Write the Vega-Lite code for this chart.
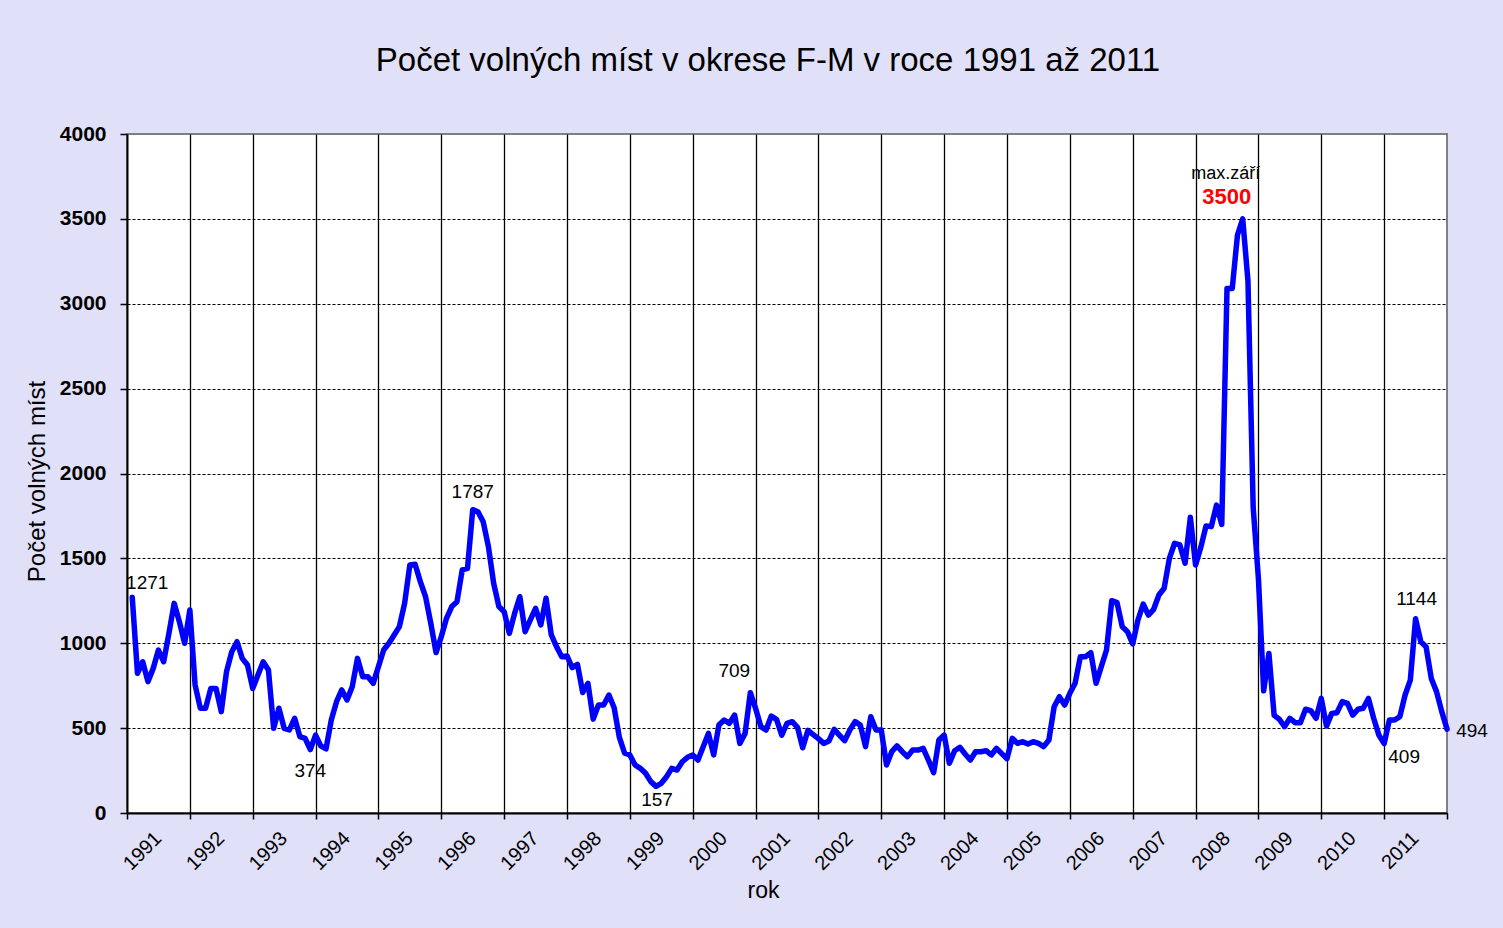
{
  "$schema": "https://vega.github.io/schema/vega-lite/v6.json",
  "width": 1320,
  "height": 679,
  "autosize": {"type": "none"},
  "padding": {"left": 127, "top": 134, "right": 56, "bottom": 115},
  "background": "#E0E0F8",
  "config": {
    "font": "Liberation Sans",
    "view": {"fill": "white", "stroke": "#808080", "strokeWidth": 2}
  },
  "title": {
    "text": "Počet volných  míst v okrese F-M v roce 1991 až 2011",
    "fontSize": 33,
    "fontWeight": "normal",
    "color": "black",
    "anchor": "middle",
    "baseline": "alphabetic",
    "dx": -19,
    "offset": 19
  },
  "data": {"values": [
    {"m":1,"v":1271},{"m":2,"v":823},{"m":3,"v":891},{"m":4,"v":774},{"m":5,"v":852},{"m":6,"v":960},{"m":7,"v":891},{"m":8,"v":1058},{"m":9,"v":1235},{"m":10,"v":1127},{"m":11,"v":1000},{"m":12,"v":1196},
    {"m":13,"v":754},{"m":14,"v":617},{"m":15,"v":617},{"m":16,"v":734},{"m":17,"v":734},{"m":18,"v":597},{"m":19,"v":833},{"m":20,"v":950},{"m":21,"v":1009},{"m":22,"v":911},{"m":23,"v":872},{"m":24,"v":734},
    {"m":25,"v":813},{"m":26,"v":891},{"m":27,"v":842},{"m":28,"v":499},{"m":29,"v":617},{"m":30,"v":499},{"m":31,"v":489},{"m":32,"v":558},{"m":33,"v":450},{"m":34,"v":440},{"m":35,"v":374},{"m":36,"v":459},
    {"m":37,"v":395},{"m":38,"v":378},{"m":39,"v":548},{"m":40,"v":656},{"m":41,"v":725},{"m":42,"v":666},{"m":43,"v":744},{"m":44,"v":911},{"m":45,"v":803},{"m":46,"v":803},{"m":47,"v":764},{"m":48,"v":862},
    {"m":49,"v":960},{"m":50,"v":1000},{"m":51,"v":1049},{"m":52,"v":1098},{"m":53,"v":1235},{"m":54,"v":1461},{"m":55,"v":1465},{"m":56,"v":1363},{"m":57,"v":1274},{"m":58,"v":1117},{"m":59,"v":945},{"m":60,"v":1039},
    {"m":61,"v":1147},{"m":62,"v":1216},{"m":63,"v":1245},{"m":64,"v":1432},{"m":65,"v":1441},{"m":66,"v":1787},{"m":67,"v":1775},{"m":68,"v":1716},{"m":69,"v":1569},{"m":70,"v":1353},{"m":71,"v":1216},{"m":72,"v":1186},
    {"m":73,"v":1058},{"m":74,"v":1176},{"m":75,"v":1274},{"m":76,"v":1068},{"m":77,"v":1137},{"m":78,"v":1206},{"m":79,"v":1108},{"m":80,"v":1265},{"m":81,"v":1049},{"m":82,"v":980},{"m":83,"v":921},{"m":84,"v":925},
    {"m":85,"v":857},{"m":86,"v":875},{"m":87,"v":710},{"m":88,"v":764},{"m":89,"v":553},{"m":90,"v":636},{"m":91,"v":636},{"m":92,"v":695},{"m":93,"v":620},{"m":94,"v":445},{"m":95,"v":352},{"m":96,"v":342},
    {"m":97,"v":283},{"m":98,"v":263},{"m":99,"v":234},{"m":100,"v":185},{"m":101,"v":157},{"m":102,"v":175},{"m":103,"v":214},{"m":104,"v":263},{"m":105,"v":253},{"m":106,"v":302},{"m":107,"v":328},{"m":108,"v":342},
    {"m":109,"v":312},{"m":110,"v":391},{"m":111,"v":469},{"m":112,"v":342},{"m":113,"v":518},{"m":114,"v":548},{"m":115,"v":528},{"m":116,"v":577},{"m":117,"v":410},{"m":118,"v":469},{"m":119,"v":709},{"m":120,"v":617},
    {"m":121,"v":509},{"m":122,"v":489},{"m":123,"v":571},{"m":124,"v":552},{"m":125,"v":459},{"m":126,"v":528},{"m":127,"v":538},{"m":128,"v":505},{"m":129,"v":384},{"m":130,"v":487},{"m":131,"v":462},{"m":132,"v":438},
    {"m":133,"v":410},{"m":134,"v":424},{"m":135,"v":493},{"m":136,"v":459},{"m":137,"v":426},{"m":138,"v":489},{"m":139,"v":538},{"m":140,"v":518},{"m":141,"v":391},{"m":142,"v":567},{"m":143,"v":489},{"m":144,"v":489},
    {"m":145,"v":283},{"m":146,"v":361},{"m":147,"v":395},{"m":148,"v":361},{"m":149,"v":332},{"m":150,"v":371},{"m":151,"v":371},{"m":152,"v":381},{"m":153,"v":312},{"m":154,"v":238},{"m":155,"v":430},{"m":156,"v":459},
    {"m":157,"v":293},{"m":158,"v":367},{"m":159,"v":387},{"m":160,"v":348},{"m":161,"v":312},{"m":162,"v":361},{"m":163,"v":361},{"m":164,"v":367},{"m":165,"v":342},{"m":166,"v":381},{"m":167,"v":350},{"m":168,"v":320},
    {"m":169,"v":440},{"m":170,"v":410},{"m":171,"v":420},{"m":172,"v":406},{"m":173,"v":420},{"m":174,"v":410},{"m":175,"v":391},{"m":176,"v":430},{"m":177,"v":626},{"m":178,"v":685},{"m":179,"v":636},{"m":180,"v":705},
    {"m":181,"v":764},{"m":182,"v":921},{"m":183,"v":921},{"m":184,"v":945},{"m":185,"v":764},{"m":186,"v":862},{"m":187,"v":960},{"m":188,"v":1251},{"m":189,"v":1239},{"m":190,"v":1098},{"m":191,"v":1068},{"m":192,"v":996},
    {"m":193,"v":1137},{"m":194,"v":1231},{"m":195,"v":1166},{"m":196,"v":1200},{"m":197,"v":1284},{"m":198,"v":1324},{"m":199,"v":1500},{"m":200,"v":1589},{"m":201,"v":1579},{"m":202,"v":1471},{"m":203,"v":1742},{"m":204,"v":1461},
    {"m":205,"v":1565},{"m":206,"v":1691},{"m":207,"v":1687},{"m":208,"v":1814},{"m":209,"v":1700},{"m":210,"v":3090},{"m":211,"v":3090},{"m":212,"v":3405},{"m":213,"v":3500},{"m":214,"v":3135},{"m":215,"v":1800},{"m":216,"v":1380},
    {"m":217,"v":720},{"m":218,"v":940},{"m":219,"v":575},{"m":220,"v":552},{"m":221,"v":509},{"m":222,"v":558},{"m":223,"v":532},{"m":224,"v":532},{"m":225,"v":611},{"m":226,"v":603},{"m":227,"v":558},{"m":228,"v":675},
    {"m":229,"v":512},{"m":230,"v":587},{"m":231,"v":591},{"m":232,"v":656},{"m":233,"v":646},{"m":234,"v":577},{"m":235,"v":611},{"m":236,"v":617},{"m":237,"v":675},{"m":238,"v":558},{"m":239,"v":459},{"m":240,"v":409},
    {"m":241,"v":548},{"m":242,"v":548},{"m":243,"v":568},{"m":244,"v":695},{"m":245,"v":783},{"m":246,"v":1144},{"m":247,"v":1009},{"m":248,"v":980},{"m":249,"v":793},{"m":250,"v":715},{"m":251,"v":597},{"m":252,"v":494}
  ]},
  "encoding": {
    "x": {
      "field": "m",
      "type": "quantitative",
      "scale": {"domain": [0, 252], "nice": false, "zero": false},
      "axis": {
        "values": [0,12,24,36,48,60,72,84,96,108,120,132,144,156,168,180,192,204,216,228,240,252],
        "labelExpr": "datum.value < 252 ? toString(1991 + datum.value / 12) : ''",
        "labelAngle": -45,
        "labelAlign": "right",
        "labelBaseline": "middle",
        "labelOffset": 31,
        "labelPadding": 16,
        "labelFontSize": 20,
        "labelColor": "black",
        "labelOverlap": false,
        "labelFlush": false,
        "tickColor": "black",
        "tickSize": 6,
        "tickWidth": 1.5,
        "domainColor": "black",
        "domainWidth": 2,
        "grid": true,
        "gridColor": "black",
        "gridWidth": 1.3,
        "gridOpacity": {"condition": {"test": "datum.value >= 252 || datum.value <= 0", "value": 0}, "value": 1},
        "title": "rok",
        "titleFontSize": 23,
        "titleFontWeight": "normal",
        "titleColor": "black",
        "titleX": 636,
        "titleY": 77,
        "titleBaseline": "middle"
      }
    },
    "y": {
      "field": "v",
      "type": "quantitative",
      "scale": {"domain": [0, 4000], "nice": false},
      "axis": {
        "values": [0,500,1000,1500,2000,2500,3000,3500,4000],
        "format": "d",
        "labelFontSize": 21,
        "labelFontWeight": "bold",
        "labelColor": "black",
        "labelPadding": 14,
        "tickColor": "black",
        "tickSize": 7,
        "tickWidth": 1.5,
        "domainColor": "black",
        "domainWidth": 2,
        "grid": true,
        "gridColor": "black",
        "gridWidth": 1,
        "gridDash": [3, 2],
        "gridOpacity": {"condition": {"test": "datum.value >= 4000 || datum.value <= 0", "value": 0}, "value": 1},
        "title": "Počet volných míst",
        "titleFontSize": 24,
        "titleFontWeight": "normal",
        "titleColor": "black",
        "titlePadding": 10,
        "titleY": 347
      }
    }
  },
  "layer": [
    {
      "mark": {"type": "line", "color": "#0000FF", "strokeWidth": 5.5, "strokeJoin": "round", "strokeCap": "round"}
    },
    {
      "transform": [{"filter": "datum.m == 1"}],
      "mark": {"type": "text", "fontSize": 19, "color": "black", "dx": 15, "dy": -14},
      "encoding": {"text": {"field": "v"}}
    },
    {
      "transform": [{"filter": "datum.m == 35"}],
      "mark": {"type": "text", "fontSize": 19, "color": "black", "dx": 0, "dy": 21},
      "encoding": {"text": {"field": "v"}}
    },
    {
      "transform": [{"filter": "datum.m == 66"}],
      "mark": {"type": "text", "fontSize": 19, "color": "black", "dx": 0, "dy": -18},
      "encoding": {"text": {"field": "v"}}
    },
    {
      "transform": [{"filter": "datum.m == 101"}],
      "mark": {"type": "text", "fontSize": 19, "color": "black", "dx": 1, "dy": 14},
      "encoding": {"text": {"field": "v"}}
    },
    {
      "transform": [{"filter": "datum.m == 119"}],
      "mark": {"type": "text", "fontSize": 19, "color": "black", "dx": -16, "dy": -22},
      "encoding": {"text": {"field": "v"}}
    },
    {
      "transform": [{"filter": "datum.m == 213"}],
      "mark": {"type": "text", "fontSize": 22, "fontWeight": "bold", "color": "#FF0000", "dx": -16, "dy": -22},
      "encoding": {"text": {"field": "v"}}
    },
    {
      "transform": [{"filter": "datum.m == 213"}],
      "mark": {"type": "text", "fontSize": 18, "color": "black", "dx": -17, "dy": -45, "text": "max.září"}
    },
    {
      "transform": [{"filter": "datum.m == 246"}],
      "mark": {"type": "text", "fontSize": 19, "color": "black", "dx": 1, "dy": -20},
      "encoding": {"text": {"field": "v"}}
    },
    {
      "transform": [{"filter": "datum.m == 240"}],
      "mark": {"type": "text", "fontSize": 19, "color": "black", "dx": 20, "dy": 13},
      "encoding": {"text": {"field": "v"}}
    },
    {
      "transform": [{"filter": "datum.m == 252"}],
      "mark": {"type": "text", "fontSize": 19, "color": "black", "dx": 25, "dy": 2},
      "encoding": {"text": {"field": "v"}}
    }
  ]
}
